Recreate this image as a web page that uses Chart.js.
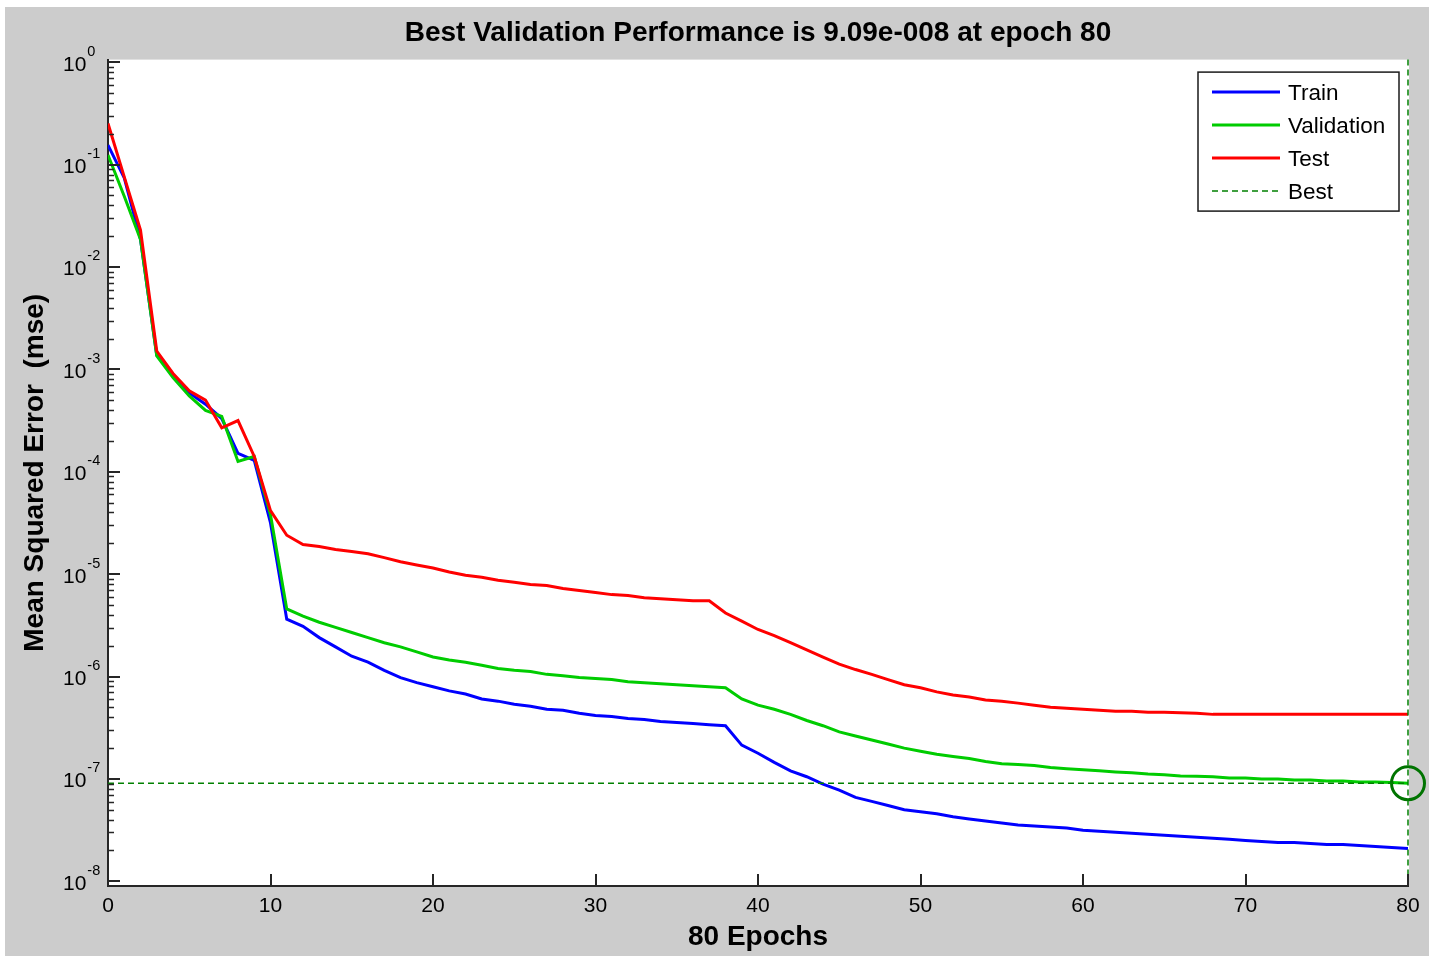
<!DOCTYPE html>
<html>
<head>
<meta charset="utf-8">
<title>Best Validation Performance</title>
<script src="https://cdn.jsdelivr.net/npm/chart.js@4.4.1/dist/chart.umd.min.js"></script>
<style>
  html, body { margin: 0; padding: 0; background: #fff; }
  #wrap { width: 1429px; height: 956px; }
</style>
</head>
<body>
<div id="wrap"><canvas id="perf" width="1429" height="956"></canvas></div>
<script>
/* ---- Data ---- */
const epochs = [0,1,2,3,4,5,6,7,8,9,10,11,12,13,14,15,16,17,18,19,20,21,22,23,24,25,26,27,28,29,30,
  31,32,33,34,35,36,37,38,39,40,41,42,43,44,45,46,47,48,49,50,51,52,53,54,55,56,57,58,59,60,
  61,62,63,64,65,66,67,68,69,70,71,72,73,74,75,76,77,78,79,80];

const trainMse = [
  1.55e-1, 7.41e-2, 1.86e-2, 1.38e-3, 8.91e-4, 5.89e-4, 4.57e-4, 3.31e-4, 1.51e-4, 1.29e-4,
  3.16e-5, 3.63e-6, 3.09e-6, 2.40e-6, 1.95e-6, 1.58e-6, 1.38e-6, 1.15e-6, 9.77e-7, 8.71e-7,
  7.94e-7, 7.24e-7, 6.76e-7, 6.03e-7, 5.75e-7, 5.37e-7, 5.13e-7, 4.79e-7, 4.68e-7, 4.37e-7,
  4.17e-7, 4.07e-7, 3.89e-7, 3.80e-7, 3.63e-7, 3.55e-7, 3.47e-7, 3.39e-7, 3.31e-7, 2.14e-7,
  1.78e-7, 1.45e-7, 1.20e-7, 1.05e-7, 8.91e-8, 7.76e-8, 6.61e-8, 6.03e-8, 5.50e-8, 5.01e-8,
  4.79e-8, 4.57e-8, 4.27e-8, 4.07e-8, 3.89e-8, 3.72e-8, 3.55e-8, 3.47e-8, 3.39e-8, 3.31e-8,
  3.16e-8, 3.09e-8, 3.02e-8, 2.95e-8, 2.88e-8, 2.82e-8, 2.75e-8, 2.69e-8, 2.63e-8, 2.57e-8,
  2.51e-8, 2.45e-8, 2.40e-8, 2.40e-8, 2.34e-8, 2.29e-8, 2.29e-8, 2.24e-8, 2.19e-8, 2.14e-8,
  2.09e-8
];

const validationMse = [
  1.24e-1, 4.90e-2, 1.86e-2, 1.35e-3, 8.32e-4, 5.50e-4, 3.98e-4, 3.47e-4, 1.26e-4, 1.41e-4,
  3.80e-5, 4.57e-6, 3.89e-6, 3.39e-6, 3.02e-6, 2.69e-6, 2.40e-6, 2.14e-6, 1.95e-6, 1.74e-6,
  1.55e-6, 1.45e-6, 1.38e-6, 1.29e-6, 1.20e-6, 1.15e-6, 1.12e-6, 1.05e-6, 1.02e-6, 9.77e-7,
  9.55e-7, 9.33e-7, 8.91e-7, 8.71e-7, 8.51e-7, 8.32e-7, 8.13e-7, 7.94e-7, 7.76e-7, 6.03e-7,
  5.25e-7, 4.79e-7, 4.27e-7, 3.72e-7, 3.31e-7, 2.88e-7, 2.63e-7, 2.40e-7, 2.19e-7, 2.00e-7,
  1.86e-7, 1.74e-7, 1.66e-7, 1.58e-7, 1.48e-7, 1.41e-7, 1.38e-7, 1.35e-7, 1.29e-7, 1.26e-7,
  1.23e-7, 1.20e-7, 1.17e-7, 1.15e-7, 1.12e-7, 1.10e-7, 1.07e-7, 1.06e-7, 1.05e-7, 1.02e-7,
  1.02e-7, 1.00e-7, 1.00e-7, 9.77e-8, 9.77e-8, 9.55e-8, 9.55e-8, 9.33e-8, 9.33e-8, 9.23e-8,
  9.09e-8
];

const testMse = [
  2.52e-1, 7.59e-2, 2.29e-2, 1.51e-3, 9.12e-4, 6.17e-4, 5.01e-4, 2.69e-4, 3.16e-4, 1.41e-4,
  4.17e-5, 2.40e-5, 1.95e-5, 1.86e-5, 1.74e-5, 1.66e-5, 1.58e-5, 1.45e-5, 1.32e-5, 1.23e-5,
  1.15e-5, 1.05e-5, 9.77e-6, 9.33e-6, 8.71e-6, 8.32e-6, 7.94e-6, 7.76e-6, 7.24e-6, 6.92e-6,
  6.61e-6, 6.31e-6, 6.17e-6, 5.89e-6, 5.75e-6, 5.62e-6, 5.50e-6, 5.50e-6, 4.17e-6, 3.47e-6,
  2.88e-6, 2.51e-6, 2.14e-6, 1.82e-6, 1.55e-6, 1.32e-6, 1.17e-6, 1.05e-6, 9.33e-7, 8.32e-7,
  7.76e-7, 7.08e-7, 6.61e-7, 6.31e-7, 5.89e-7, 5.75e-7, 5.50e-7, 5.25e-7, 5.01e-7, 4.90e-7,
  4.79e-7, 4.68e-7, 4.57e-7, 4.57e-7, 4.47e-7, 4.47e-7, 4.42e-7, 4.37e-7, 4.27e-7, 4.27e-7,
  4.27e-7, 4.27e-7, 4.27e-7, 4.27e-7, 4.27e-7, 4.27e-7, 4.27e-7, 4.27e-7, 4.27e-7, 4.27e-7,
  4.27e-7
];

const bestEpoch = 80;
const bestMse = 9.09e-8;

const xTicks = [0, 10, 20, 30, 40, 50, 60, 70, 80];
const yDecades = [-8, -7, -6, -5, -4, -3, -2, -1, 0];
const yMin = 9.1e-9;
const yMax = 1.06;

/* ---- Style ---- */
const FONT = '"Liberation Sans", Arial, Helvetica, sans-serif';
const AXIS_COLOR = '#262626';
const BEST_COLOR = '#008000';
Chart.defaults.font.family = FONT;
Chart.defaults.color = '#000';

const toPoints = values => epochs.map((e, i) => ({ x: e, y: values[i] }));

/* ---- Figure background: gray frame, white axes ---- */
const figureFrame = {
  id: 'figureFrame',
  beforeDraw(chart) {
    const { ctx, chartArea: a } = chart;
    ctx.save();
    ctx.fillStyle = '#fff';
    ctx.fillRect(0, 0, chart.width, chart.height);
    ctx.fillStyle = '#cccccc';
    ctx.fillRect(5, 7, chart.width - 5, chart.height - 7);
    ctx.fillStyle = '#fff';
    ctx.fillRect(a.left, a.top, a.right - a.left + 1, a.bottom - a.top);
    ctx.restore();
  }
};

/* ---- Inward ticks + 10^n labels (MATLAB style) ---- */
const matlabTicks = {
  id: 'matlabTicks',
  afterDraw(chart) {
    const { ctx, chartArea: a, scales: { x, y } } = chart;
    ctx.save();
    ctx.strokeStyle = AXIS_COLOR;
    ctx.lineWidth = 2;
    ctx.beginPath();
    yDecades.forEach(d => {
      const py = Math.round(y.getPixelForValue(Math.pow(10, d)));
      ctx.moveTo(a.left, py);
      ctx.lineTo(a.left + 12, py);
    });
    xTicks.forEach(v => {
      const px = Math.round(x.getPixelForValue(v));
      ctx.moveTo(px, a.bottom);
      ctx.lineTo(px, a.bottom - 12);
    });
    ctx.stroke();

    // minor ticks 2..9 of each decade
    ctx.lineWidth = 1.5;
    ctx.beginPath();
    yDecades.slice(0, -1).forEach(d => {
      for (let k = 2; k < 10; k++) {
        const py = Math.round(y.getPixelForValue(k * Math.pow(10, d))) + 0.5;
        ctx.moveTo(a.left, py);
        ctx.lineTo(a.left + 6, py);
      }
    });
    ctx.stroke();

    // tick labels with superscript exponent
    ctx.fillStyle = '#000';
    ctx.textAlign = 'left';
    ctx.textBaseline = 'alphabetic';
    yDecades.forEach(d => {
      const py = y.getPixelForValue(Math.pow(10, d));
      ctx.font = '21px ' + FONT;
      ctx.fillText('10', 63, py + 8.5);
      const w = ctx.measureText('10').width;
      ctx.font = '14.5px ' + FONT;
      ctx.fillText(String(d), 63 + w + 1, py - 6.5);
    });
    ctx.restore();
  }
};

/* ---- Boxed legend in the top-right corner ---- */
const boxLegend = {
  id: 'boxLegend',
  afterDraw(chart) {
    const { ctx, chartArea: a } = chart;
    const items = chart.data.datasets.filter(ds => ds.inLegend);
    const w = 201, rowH = 33;
    const h = items.length * rowH + 7;
    const left = a.right - 9 - w;
    const top = a.top + 12.5;
    ctx.save();
    ctx.fillStyle = '#fff';
    ctx.fillRect(left, top, w, h);
    ctx.strokeStyle = '#1a1a1a';
    ctx.lineWidth = 1.5;
    ctx.strokeRect(left, top, w, h);
    ctx.font = '22.5px ' + FONT;
    ctx.textAlign = 'left';
    ctx.textBaseline = 'middle';
    items.forEach((ds, i) => {
      const cy = top + 22 + i * rowH;
      ctx.strokeStyle = ds.borderColor;
      ctx.lineWidth = ds.borderWidth;
      ctx.setLineDash(ds.borderDash || []);
      ctx.beginPath();
      ctx.moveTo(left + 14, cy - 2);
      ctx.lineTo(left + 82, cy - 2);
      ctx.stroke();
      ctx.setLineDash([]);
      ctx.fillStyle = '#000';
      ctx.fillText(ds.label, left + 90, cy);
    });
    ctx.restore();
  }
};

const line = (label, values, color, order) => ({
  label, data: toPoints(values), borderColor: color, borderWidth: 3,
  pointRadius: 0, tension: 0, fill: false, order, inLegend: true
});

new Chart(document.getElementById('perf'), {
  type: 'line',
  data: {
    datasets: [
      line('Train', trainMse, '#0000ff', 3),
      line('Validation', validationMse, '#00cc00', 2),
      line('Test', testMse, '#ff0000', 1),
      {
        label: 'Best', data: [{ x: 0, y: bestMse }, { x: bestEpoch, y: bestMse }],
        borderColor: BEST_COLOR, borderWidth: 1.5, borderDash: [6, 4],
        pointRadius: 0, order: 0, inLegend: true
      },
      {
        label: 'Best epoch', data: [{ x: bestEpoch, y: yMin }, { x: bestEpoch, y: yMax }],
        borderColor: BEST_COLOR, borderWidth: 1.5, borderDash: [6, 4],
        pointRadius: 0, order: 0, clip: false
      },
      {
        label: 'Best point', data: [{ x: bestEpoch, y: bestMse }], showLine: false,
        pointRadius: 16.5, pointBorderWidth: 3, pointBorderColor: '#007400',
        pointBackgroundColor: 'rgba(0,0,0,0)', order: 0, clip: false
      }
    ]
  },
  options: {
    responsive: false,
    animation: false,
    devicePixelRatio: 1,
    layout: { padding: { left: 0, right: 21, top: 0, bottom: 0 } },
    plugins: {
      legend: { display: false },
      tooltip: { enabled: false },
      title: {
        display: true,
        fullSize: false,
        text: 'Best Validation Performance is 9.09e-008 at epoch 80',
        font: { size: 28, weight: 'bold' },
        color: '#000',
        padding: { top: 16, bottom: 10 }
      }
    },
    scales: {
      x: {
        type: 'linear',
        min: 0,
        max: 80,
        afterBuildTicks: s => { s.ticks = xTicks.map(v => ({ value: v })); },
        afterFit: s => { s.height = 70; },
        grid: { display: false, drawTicks: false },
        border: { display: true, color: AXIS_COLOR, width: 2 },
        ticks: { font: { size: 21 }, color: '#000', padding: 8, maxRotation: 0, autoSkip: false },
        title: {
          display: true, text: '80 Epochs', color: '#000',
          font: { size: 28, weight: 'bold' }, padding: { top: 0, bottom: 2 }
        }
      },
      y: {
        type: 'logarithmic',
        min: yMin,
        max: yMax,
        afterFit: s => { s.width = 108; },
        grid: { display: false, drawTicks: false },
        border: { display: true, color: AXIS_COLOR, width: 2 },
        ticks: { display: false },
        title: {
          display: true, text: 'Mean Squared Error  (mse)', color: '#000',
          font: { size: 28, weight: 'bold' }, padding: { top: 18, bottom: 0 }
        }
      }
    }
  },
  plugins: [figureFrame, matlabTicks, boxLegend]
});
</script>
</body>
</html>
